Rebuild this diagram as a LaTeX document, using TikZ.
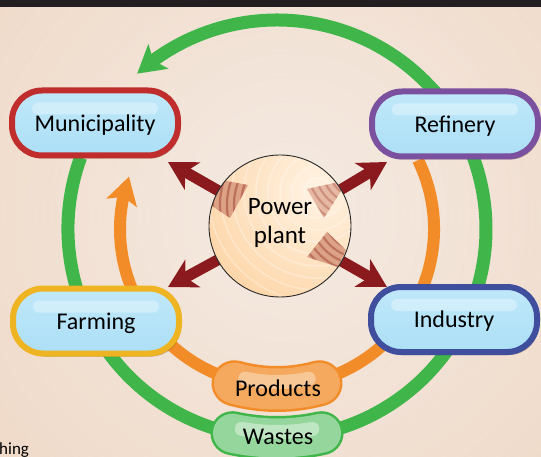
\documentclass[tikz,border=0pt]{standalone}
\usepackage{fontspec}
\setmainfont{Carlito}
\usetikzlibrary{arrows.meta,bending,shadows,calc}

\definecolor{bgin}{HTML}{F4EAE2}
\definecolor{bgout}{HTML}{ECCCB2}
\definecolor{topbar}{HTML}{231F20}
\definecolor{cyclegreen}{HTML}{3FB54A}
\definecolor{cycleorange}{HTML}{F28C28}
\definecolor{heatred}{HTML}{8B1A1F}
\definecolor{munired}{HTML}{BF2E2C}
\definecolor{refpurple}{HTML}{7B519F}
\definecolor{farmgold}{HTML}{EEB422}
\definecolor{indblue}{HTML}{3F4E9D}
\definecolor{pilltop}{HTML}{C0E8FA}
\definecolor{pillbottom}{HTML}{ACDFF6}
\definecolor{plantin}{HTML}{FFF3E4}
\definecolor{plantout}{HTML}{FDC78A}
\definecolor{wedgefill}{HTML}{D8977C}
\definecolor{wedgestripe}{HTML}{B2604F}

\tikzset{
  pill/.style={rectangle, rounded corners=30pt, minimum width=166pt,
    minimum height=65pt, inner sep=0pt, line width=6pt,
    top color=pilltop, bottom color=pillbottom,
    text depth=0pt, font=\fontsize{24}{26}\selectfont,
    drop shadow={shadow xshift=2pt, shadow yshift=-3pt, opacity=.35, fill=black!70!brown},
    path picture={\fill[white, opacity=.32, rounded corners=6pt]
      ([xshift=20pt, yshift=-12pt]path picture bounding box.north west) rectangle
      ([xshift=-20pt, yshift=-24pt]path picture bounding box.north east);}},
  greenring/.style={draw=cyclegreen, line width=13pt},
  orangering/.style={draw=cycleorange, line width=12pt},
  cyclehead/.style={-{Stealth[length=27pt, width=31pt, inset=6pt, flex]}},
  heatarrow/.style={draw=heatred, line width=11pt,
    -{Stealth[length=28pt, width=31pt, inset=8pt]}},
  blobtext/.style={inner sep=0pt, text depth=0pt, font=\fontsize{24}{26}\selectfont},
}

\begin{document}
\begin{tikzpicture}[x=1pt, y=-1pt]
\useasboundingbox (0,0) rectangle (541,457);

% background with soft ripples
\begin{scope}
  \clip (0,0) rectangle (541,457);
  \fill[bgout] (0,0) rectangle (541,457);
  \shade[inner color=bgin, outer color=bgout] (290,210) circle (720);
  \foreach \r in {12,20,...,420}
    \draw[white, opacity=.05, line width=2pt] (280,215) circle (\r);
\end{scope}
\fill[topbar] (0,0) rectangle (541,7);

% centre of the two cycles
\coordinate (C) at (277,229);

% green cycle (wastes)
\draw[greenring] ($(C)+(200:209)$) arc[start angle=200, end angle=-42, radius=209];
\draw[greenring, cyclehead] ($(C)+(-40:209)$) arc[start angle=-40, end angle=-132, radius=209];

% orange cycle (products)
\draw[orangering, cyclehead] ($(C)+(-26:157)$) arc[start angle=-26, end angle=199.5, radius=157];

% products and wastes blobs
\draw[line width=46pt, cycleorange, line cap=round]
  ($(C)+(74.6:160)$) arc[start angle=74.6, end angle=105.4, radius=160];
\draw[line width=41pt, cycleorange!75!white, line cap=round]
  ($(C)+(74.6:160)$) arc[start angle=74.6, end angle=105.4, radius=160];
\draw[line width=14pt, white, opacity=.35, line cap=round]
  ($(C)+(78:153)$) arc[start angle=78, end angle=102, radius=153];
\node[blobtext] (products) at (278,388.5) {Products};

\draw[line width=44pt, cyclegreen, line cap=round]
  ($(C)+(77.7:209)$) arc[start angle=77.7, end angle=102.3, radius=209];
\draw[line width=39pt, cyclegreen!55!white, line cap=round]
  ($(C)+(77.7:209)$) arc[start angle=77.7, end angle=102.3, radius=209];
\draw[line width=14pt, white, opacity=.4, line cap=round]
  ($(C)+(80:203)$) arc[start angle=80, end angle=100, radius=203];
\node[blobtext] (wastes) at (278,437) {Wastes};

% heat arrows from the power plant
\coordinate (ppc) at (280,226);
\coordinate (tUL) at (168,162);
\coordinate (tUR) at (387,162);
\coordinate (tDL) at (168,287);
\coordinate (tDR) at (387,287);
\draw[heatarrow] (ppc) -- (tUL);
\draw[heatarrow] (ppc) -- (tUR);
\draw[heatarrow] (ppc) -- (tDL);
\draw[heatarrow] (ppc) -- (tDR);

% power plant disc
\begin{scope}
  \clip (ppc) circle (71);
  \shade[inner color=plantin, outer color=plantout] (318,190) circle (190);
  \foreach \r in {14,26,...,130}
    \draw[white, opacity=.3, line width=1.5pt] (318,192) circle (\r);
  % striped wedges
  \begin{scope}
    \clip (221,180) -- (248,185) -- (230,218) -- (212,206) -- cycle;
    \fill[wedgefill, opacity=.85] (200,170) rectangle (260,225);
    \foreach \r in {52,59,...,100}
      \draw[wedgestripe, opacity=.75, line width=2.2pt] (300,205) circle (\r);
  \end{scope}
  \begin{scope}
    \clip (307,189) -- (348,180) -- (324,218) -- cycle;
    \fill[wedgefill!80!white, opacity=.8] (300,175) rectangle (355,225);
    \foreach \r in {20,27,...,70}
      \draw[wedgestripe, opacity=.45, line width=2.2pt] (362,165) circle (\r);
  \end{scope}
  \begin{scope}
    \clip (327,232) -- (346,250) -- (338,267) -- (307,257) -- cycle;
    \fill[wedgefill, opacity=.85] (300,225) rectangle (355,275);
    \foreach \r in {18,25,...,70}
      \draw[wedgestripe, opacity=.7, line width=2.2pt] (362,212) circle (\r);
  \end{scope}
\end{scope}
\node[circle, draw=black!85, line width=.9pt, minimum size=142pt, inner sep=0pt] (pp) at (ppc) {};
\node[align=center, inner sep=0pt, font=\fontsize{25}{29}\selectfont] (pplabel) at (280,223) {Power\\plant};

% stakeholder pills
\node[pill, draw=munired] (muni) at (95,123) {Municipality};
\node[pill, draw=refpurple] (refinery) at (455,124) {Refinery};
\node[pill, draw=farmgold] (farming) at (96,321) {Farming};
\node[pill, draw=indblue] (industry) at (454,319.5) {Industry};

% caption fragment at the lower edge
\node[anchor=base west, inner sep=0pt, font=\fontsize{17}{19}\selectfont] (caption) at (-1,454) {hing};
\end{tikzpicture}
\end{document}
